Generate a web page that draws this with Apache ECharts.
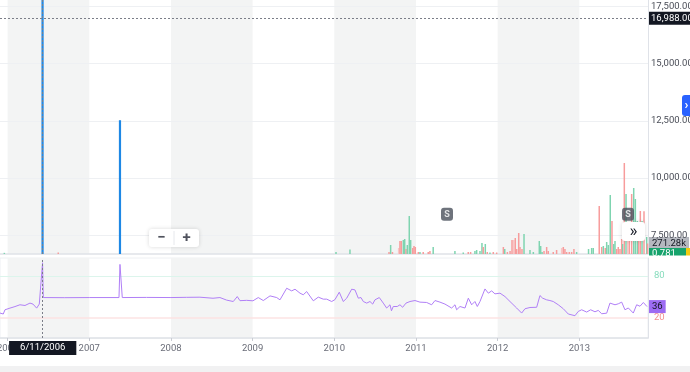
<!DOCTYPE html>
<html><head><meta charset="utf-8">
<script src="https://cdn.jsdelivr.net/npm/echarts@6/dist/echarts.min.js"></script>
<style>html,body{margin:0;padding:0;background:#fff}#c{width:690px;height:372px}</style>
</head><body><div id="c"></div>
<script>
// ---- data (dates as decimal years) ----
const yearTicks = [2006, 2007, 2008, 2009, 2010, 2011, 2012, 2013];
const priceTicks = [7500, 10000, 12500, 15000, 17500];
const rsiLevels = [20, 80];

const spikeDates = [2006.428, 2007.376];
const spikeHighs = [18500, 12530];

const eventDates = [2011.380, 2013.596];
const eventLevel = 8420;

const crosshairDate = 2006.428;
const crosshairDateLabel = '6/11/2006';
const crosshairPrice = 16988;
const lastPrice = 0.781;

const volDates = [2005.960,2006.620,2010.021,2010.192,2010.670,2010.690,2010.712,2010.788,2010.804,2010.820,2010.845,2010.862,2010.878,2010.894,2010.918,2010.935,2010.960,2010.976,2010.992,2011.029,2011.049,2011.089,2011.150,2011.171,2011.211,2011.477,2011.579,2011.640,2011.669,2011.722,2011.743,2011.784,2011.808,2011.824,2011.849,2011.873,2011.906,2011.947,2011.988,2012.070,2012.087,2012.119,2012.152,2012.176,2012.197,2012.216,2012.233,2012.258,2012.274,2012.298,2012.323,2012.396,2012.437,2012.510,2012.527,2012.544,2012.568,2012.600,2012.620,2012.681,2012.722,2012.784,2012.804,2012.824,2012.845,2012.877,2012.906,2012.934,2012.967,2013.113,2013.151,2013.171,2013.244,2013.274,2013.294,2013.318,2013.335,2013.355,2013.379,2013.400,2013.421,2013.437,2013.458,2013.477,2013.498,2013.519,2013.531,2013.551,2013.572,2013.592,2013.612,2013.641,2013.666,2013.686,2013.710,2013.727,2013.747,2013.768,2013.792,2013.825,2013.835];
const volValues = [30,40,52,116,52,232,52,155,335,335,361,387,129,232,980,361,155,206,181,52,52,52,52,77,181,77,39,52,52,77,103,77,284,181,258,52,39,52,39,181,129,52,77,361,361,413,129,542,181,129,516,103,52,335,206,52,77,181,77,52,103,155,181,129,52,52,52,129,52,129,155,155,1238,181,206,155,310,232,1522,851,258,335,129,181,129,387,258,2348,1548,439,387,1548,1703,1419,851,439,1109,851,1100,439,271.28];
const volDir = ['u','d','u','u','d','u','d','l','d','d','u','u','d','u','u','u','d','d','d','d','u','d','d','d','u','u','u','d','d','u','u','u','u','d','u','d','u','d','d','d','u','d','d','d','l','d','d','d','d','d','u','u','u','u','u','u','d','d','d','d','d','l','d','d','d','d','d','d','u','u','u','u','d','d','u','d','u','u','u','d','u','u','d','d','d','d','u','d','u','l','d','d','u','u','u','d','d','u','d','u','d'];

const rsiDates = [2005.907,2005.947,2005.968,2006.029,2006.090,2006.151,2006.213,2006.274,2006.311,2006.356,2006.388,2006.405,2006.428,2006.437,2006.700,2007.000,2007.364,2007.376,2007.404,2007.700,2008.000,2008.193,2008.355,2008.515,2008.600,2008.682,2008.763,2008.812,2008.845,2008.927,2009.004,2009.069,2009.131,2009.213,2009.295,2009.335,2009.417,2009.478,2009.519,2009.580,2009.620,2009.662,2009.743,2009.804,2009.865,2009.907,2009.968,2010.008,2010.061,2010.110,2010.152,2010.213,2010.253,2010.294,2010.327,2010.355,2010.397,2010.437,2010.470,2010.498,2010.551,2010.600,2010.641,2010.682,2010.700,2010.722,2010.771,2010.804,2010.837,2010.878,2010.927,2010.988,2011.049,2011.131,2011.192,2011.233,2011.294,2011.355,2011.437,2011.478,2011.498,2011.539,2011.600,2011.641,2011.682,2011.722,2011.751,2011.784,2011.845,2011.886,2011.927,2011.967,2012.029,2012.090,2012.151,2012.233,2012.294,2012.335,2012.396,2012.478,2012.518,2012.551,2012.600,2012.640,2012.681,2012.742,2012.804,2012.865,2012.947,2012.987,2013.029,2013.090,2013.139,2013.192,2013.232,2013.274,2013.335,2013.375,2013.437,2013.477,2013.519,2013.559,2013.600,2013.661,2013.702,2013.743,2013.784,2013.829];
const rsiValues = [26.7,25.3,31.4,33.8,36,38.6,37.6,41,39.6,33.8,39.6,41,99,49,48.8,49,49,96.7,49,49.2,49,49.3,49.5,48,49,45.3,43.3,50.4,44.5,45,44.3,49,44.7,51.4,49,45.7,62.4,58.6,61,55.3,53,57.6,44.3,49.6,46.7,46.7,43.3,46,56.7,43.3,48.1,61,60,48.1,49,43.3,41,43.3,39.6,45.7,49,41,33.9,38.6,30,36.1,36.1,38.6,35,41,43.3,44.7,42.4,41.9,38.6,44.7,42.4,39.6,33.9,38.6,31.4,36.1,33.9,48.1,38.6,43.3,36.1,43.3,61.4,55.3,58.6,54.3,55.3,50.4,43.3,33.9,26.7,32.9,34.7,35,51.9,48.1,45.7,44.7,43.3,38.6,32.9,25.3,22.9,29,31.4,28.1,31.4,28.5,30.5,25.7,26.5,41,38.6,40,42.4,31.4,34,26.7,38.6,36.5,41.9,36];

// ---- chart ----
const X_MIN = 2005.907, X_MAX = 2013.841;
const FONT = 'Roboto, "Open Sans", sans-serif';
const FS = 9.5;
const fmtPrice = v => v.toLocaleString('en-US', {minimumFractionDigits: 2, maximumFractionDigits: 2});
const volColor = {u: '#7fd4b0', d: '#f79c9c', l: '#f9c6c6'};
const bands = yearTicks.filter((y, i) => i % 2 === 0).map(y => [{xAxis: y}, {xAxis: y + 1}]);
const lastRsi = rsiValues[rsiValues.length - 1];
const lastVol = volValues[volValues.length - 1];
const HIDDEN = {color: 'rgba(0,0,0,0)', width: 0};

const chart = echarts.init(document.getElementById('c'), null, {renderer: 'canvas'});
const dotted = {color: '#7b7e88', type: [2, 2], width: 1};

chart.setOption({
  animation: false,
  textStyle: {fontFamily: FONT},
  grid: [
    {left: 0, top: 0, width: 648, height: 254, outerBoundsMode: 'none', containLabel: false},
    {left: 0, top: 258, width: 648, height: 80, outerBoundsMode: 'none', containLabel: false,
     show: true, borderColor: '#eef0f3', borderWidth: 1, backgroundColor: 'transparent'}
  ],
  xAxis: [
    {type: 'value', gridIndex: 0, min: X_MIN, max: X_MAX, splitLine: {show: false},
     axisLabel: {show: false}, axisTick: {show: false},
     axisLine: {show: true, onZero: false, lineStyle: {color: '#dfe2e8', width: 1.5}}},
    {type: 'value', gridIndex: 1, min: X_MIN, max: X_MAX, splitLine: {show: false},
     axisLine: {show: true, onZero: false, lineStyle: {color: '#dfe2e8', width: 1.5}},
     axisTick: {show: true, customValues: yearTicks, length: 3, lineStyle: {color: '#c9ccd3'}},
     axisLabel: {show: true, customValues: yearTicks, formatter: v => String(Math.round(v)), color: '#6a6d78', fontSize: FS, margin: 6, fontFamily: FONT}},
    {type: 'value', gridIndex: 0, min: X_MIN, max: X_MAX, show: false}
  ],
  yAxis: [
    {type: 'value', gridIndex: 0, position: 'right', min: 6683, max: 17784, splitLine: {show: false},
     axisLine: {show: true, onZero: false, lineStyle: {color: '#dfe2e8'}},
     axisTick: {show: false}, axisLabel: {show: false}},
    {type: 'value', gridIndex: 0, min: 0, max: 6553, show: false},
    {type: 'value', gridIndex: 1, position: 'right', min: -9.2, max: 105.9, splitLine: {show: false},
     axisLine: {show: true, onZero: false, lineStyle: {color: '#dfe2e8'}},
     axisTick: {show: false},
     axisLabel: {customValues: rsiLevels, formatter: v => String(Math.round(v)),
       color: v => (Number(v) >= 50 ? '#86dcbc' : '#f48f8f'), fontSize: FS, margin: 6, fontFamily: FONT}}
  ],
  series: [
    // background bands + gridlines (main pane)
    {type: 'line', xAxisIndex: 0, yAxisIndex: 0, data: [], z: 0, silent: true,
     markArea: {silent: true, z: 0, itemStyle: {color: '#f3f4f4'}, data: bands},
     markLine: {silent: true, z: 0, symbol: ['none', 'none'], label: {show: false},
       lineStyle: {color: '#eef0f3', type: 'solid', width: 1},
       data: priceTicks.map(v => ({yAxis: v}))}},
    // background bands + level lines (RSI pane)
    {type: 'line', xAxisIndex: 1, yAxisIndex: 2, data: [], z: 0, silent: true,
     markArea: {silent: true, z: 0, itemStyle: {color: '#f3f4f4'}, data: bands},
     markLine: {silent: true, z: 0, symbol: ['none', 'none'], label: {show: false},
       data: [
         {yAxis: rsiLevels[1], lineStyle: {color: '#dcf5ec', type: 'solid', width: 1}},
         {yAxis: rsiLevels[0], lineStyle: {color: '#fde3e3', type: 'solid', width: 1.5}}
       ]}},
    // volume
    {type: 'bar', xAxisIndex: 2, yAxisIndex: 1, barWidth: 1.5, z: 2,
     data: volDates.map((d, i) => ({value: [d, volValues[i]], itemStyle: {color: volColor[volDir[i]]}})),
     markLine: {silent: true, z: 20, symbol: ['none', 'none'],
       data: [{yAxis: lastVol, lineStyle: HIDDEN,
         label: {show: true, position: 'end', distance: 1, formatter: lastVol.toFixed(2) + 'k',
           backgroundColor: '#b5b8bf', color: '#131722', fontSize: FS, padding: [2, 3, 1, 3], fontFamily: FONT}}]}},
    // price spikes
    {type: 'bar', xAxisIndex: 0, yAxisIndex: 0, barWidth: 2.2, z: 3, clip: true,
     itemStyle: {color: '#1e88e5'},
     data: spikeDates.map((d, i) => [d, spikeHighs[i]]),
     markLine: {silent: true, symbol: ['none', 'none'], z: 10,
       data: [
         {yAxis: crosshairPrice, lineStyle: dotted,
          label: {show: true, position: 'end', distance: 1, formatter: fmtPrice(crosshairPrice),
            backgroundColor: '#131722', color: '#fff', fontSize: FS, padding: [2, 2, 1, 2], fontFamily: FONT}},
         {xAxis: crosshairDate, lineStyle: dotted, label: {show: false}}
       ]}},
    // events
    {type: 'scatter', xAxisIndex: 0, yAxisIndex: 0, z: 4, symbol: 'roundRect', symbolSize: [12, 13],
     itemStyle: {color: '#4a505b'},
     label: {show: true, position: 'inside', formatter: 'S', color: '#fff', fontSize: 9, fontWeight: 'bold', fontFamily: FONT},
     data: eventDates.map(d => [d, eventLevel])},
    // RSI
    {type: 'line', xAxisIndex: 1, yAxisIndex: 2, z: 3, showSymbol: false, symbol: 'none',
     lineStyle: {color: '#b07ff6', width: 1},
     data: rsiDates.map((d, i) => [d, rsiValues[i]]),
     markLine: {silent: true, symbol: ['none', 'none'], z: 10,
       data: [
         {xAxis: crosshairDate, lineStyle: dotted,
          label: {show: true, position: 'start', distance: 3, formatter: crosshairDateLabel,
            backgroundColor: '#131722', color: '#fff', fontSize: FS, padding: [2, 11, 2, 11], fontFamily: FONT}},
         {yAxis: lastRsi, lineStyle: HIDDEN,
          label: {show: true, position: 'end', distance: 1, formatter: String(Math.round(lastRsi)),
            backgroundColor: '#9d6cf3', color: '#131722', fontSize: FS, padding: [2, 3, 1, 3], fontFamily: FONT}}
       ]}}
  ]
});

// price labels on the right axis, placed through the axis scale
const priceLabelEls = priceTicks.map(v => ({
  type: 'text', z: 50, x: 651, y: chart.convertToPixel({yAxisIndex: 0}, v),
  style: {text: fmtPrice(v), fill: '#4a4d57', font: FS + 'px ' + FONT, verticalAlign: 'middle', align: 'left'}
}));

chart.setOption({
  graphic: priceLabelEls.concat([
    // last price label (clamped at pane bottom)
    {type: 'rect', z: 100, shape: {x: 649, y: 248, width: 37, height: 14}, style: {fill: '#16a36c'}},
    {type: 'polygon', z: 100, shape: {points: [[686, 248], [690, 248], [690, 258], [686, 262]]}, style: {fill: '#f2cc12'}},
    {type: 'text', z: 100, x: 652, y: 249, style: {text: String(lastPrice), fill: '#fff', font: FS + 'px ' + FONT}},
    {type: 'rect', z: 101, shape: {x: 649, y: 255.5, width: 41, height: 9}, style: {fill: '#fff'}},
    // zoom buttons
    {type: 'rect', z: 100, shape: {x: 149, y: 229, width: 50, height: 18, r: 3},
     style: {fill: '#fff', shadowBlur: 4, shadowColor: 'rgba(0,0,0,0.15)'}},
    {type: 'line', z: 101, shape: {x1: 174, y1: 231, x2: 174, y2: 245}, style: {stroke: '#e6e8ec', lineWidth: 1}},
    {type: 'text', z: 101, x: 161.5, y: 238, style: {text: '\u2212', fill: '#50535e', font: 'bold 15px ' + FONT, align: 'center', verticalAlign: 'middle'}},
    {type: 'text', z: 101, x: 186.5, y: 238, style: {text: '+', fill: '#50535e', font: 'bold 15px ' + FONT, align: 'center', verticalAlign: 'middle'}},
    // scroll-to-end button
    {type: 'rect', z: 100, shape: {x: 622, y: 222, width: 23, height: 19, r: 3},
     style: {fill: '#fff', shadowBlur: 4, shadowColor: 'rgba(0,0,0,0.15)'}},
    {type: 'text', z: 101, x: 633.5, y: 231.5, style: {text: '\u00bb', fill: '#131722', font: '17px ' + FONT, align: 'center', verticalAlign: 'middle'}},
    // right blue tab
    {type: 'rect', z: 100, shape: {x: 682, y: 95, width: 12, height: 21, r: 3}, style: {fill: '#2962ff'}},
    {type: 'text', z: 101, x: 686.5, y: 105.5, style: {text: '\u203a', fill: '#fff', font: 'bold 13px ' + FONT, align: 'center', verticalAlign: 'middle'}},
    // footer strip
    {type: 'rect', z: 100, shape: {x: 0, y: 366, width: 690, height: 6}, style: {fill: '#f1f1f2'}}
  ])
});
</script></body></html>
